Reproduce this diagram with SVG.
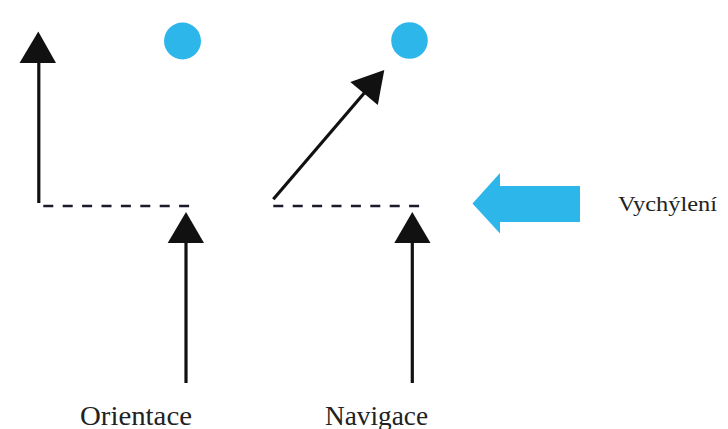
<svg xmlns="http://www.w3.org/2000/svg" width="728" height="429" viewBox="0 0 728 429">
<style>
.shaft{stroke:#111;stroke-width:3.2;fill:none;stroke-linecap:butt}
.dash{stroke:#1a1a2a;stroke-width:2.6;fill:none;stroke-dasharray:10 9.4}
.head{fill:#111}
.sun{fill:#2cb6ea}
.lbl{font-family:"Liberation Serif","Times New Roman",serif;fill:#222}
</style>
<rect width="728" height="429" fill="#ffffff"/>
<g id="sun-left"><circle class="sun" cx="182.5" cy="41" r="18.5"/></g>
<g id="sun-right"><circle class="sun" cx="409.5" cy="40.5" r="18.3"/></g>
<g id="deflection-arrow"><polygon class="sun" points="472.5,203.5 500,173 500,186 580,186 580,222 500,222 500,233.5"/></g>
<g id="label-orientace"><text class="lbl" x="80" y="425" font-size="27" textLength="112" lengthAdjust="spacingAndGlyphs">Orientace</text></g>
<g id="label-navigace"><text class="lbl" x="325" y="425" font-size="27" textLength="103" lengthAdjust="spacingAndGlyphs">Navigace</text></g>
<g id="label-vychyleni"><text class="lbl" x="618" y="210.5" font-size="20" textLength="99" lengthAdjust="spacingAndGlyphs">Vychýlení</text></g>
<g id="connectors">
<line class="dash" x1="43.3" y1="206" x2="189.3" y2="206"/>
<line class="dash" x1="273.3" y1="206" x2="419.3" y2="206"/>
<line class="shaft" x1="38.8" y1="62" x2="38.8" y2="203"/>
<polygon class="head" points="38.3,31.5 19.5,63 56,63"/>
<line class="shaft" x1="186" y1="240" x2="186" y2="383"/>
<polygon class="head" points="186,212 167.7,243 204,243"/>
<line class="shaft" x1="412.3" y1="240" x2="412.3" y2="383"/>
<polygon class="head" points="412.3,212 394.3,243 430.5,243"/>
<line class="shaft" x1="273.3" y1="199.3" x2="366" y2="91"/>
<polygon class="head" points="384.3,70 350.3,82 377.8,105"/>
</g>
</svg>
